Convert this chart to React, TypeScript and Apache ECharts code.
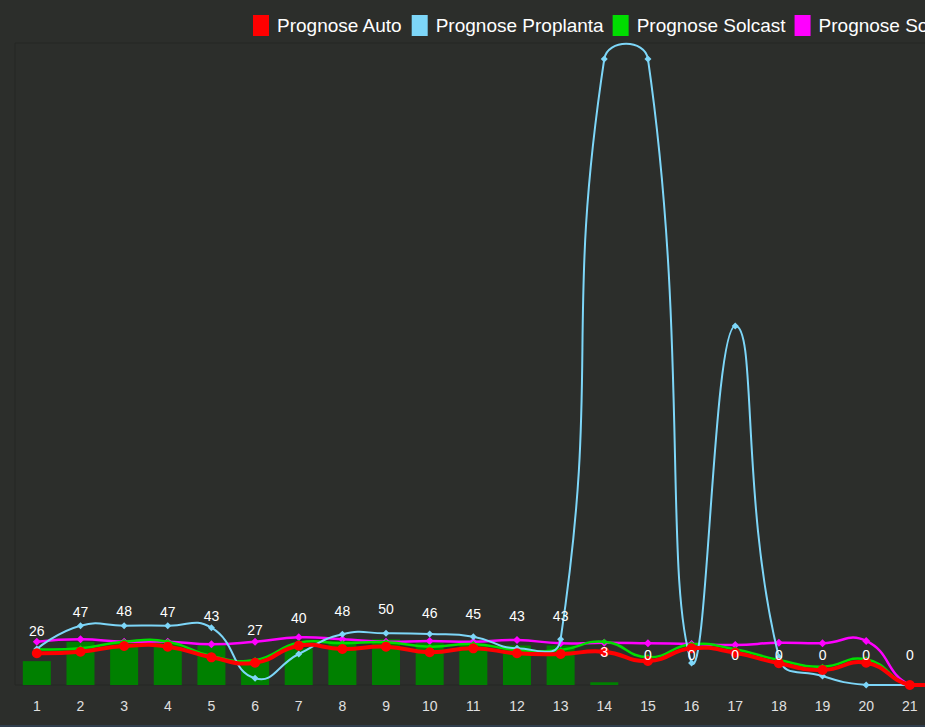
import React, { useEffect, useRef } from "react";
import * as echarts from "echarts";

const days = ["1","2","3","4","5","6","7","8","9","10","11","12","13","14","15","16","17","18","19","20","21","22"];
const ertrag = [26,47,48,47,43,27,40,48,50,46,45,43,43,3,0,0,0,0,0,0,0,0];
const prognoseAuto = [34.6,36.3,42.5,41.8,30.2,24.3,42.9,39.3,41.8,35.7,40,34.6,33.8,36.3,26.2,40,35.2,23.7,16.4,24.3,0,0];
const prognoseProplanta = [39.3,64.7,64.7,64.7,62.5,7.3,33.8,55.3,56.4,55.6,52.7,40,49.8,682.6,682.6,24,391.5,30.5,9.8,0,0,0];
const prognoseSolcast = [38.9,40,47.2,47.2,31.6,27.3,46.1,45.5,46.6,41.8,44.7,38.2,38.2,47.2,30.2,44.4,38.9,27.3,20,28,0,0];
const prognoseSolcast90 = [47.2,49.8,47.2,47.2,44.4,47.2,52,49.8,47.2,48,47.2,49,45.5,46.1,45.5,44.7,43.6,46.1,45.5,48,0,0];

const FONT = "'Liberation Sans', Arial, sans-serif";
const SMOOTH = 0.5;

function curveSeries(name: string, values: number[], color: string, width: number, z: number) {
  return {
    name,
    type: "custom",
    data: values.map((v, i) => [i, v]),
    encode: { x: 0, y: 1 },
    clip: false,
    silent: true,
    z,
    itemStyle: { color },
    renderItem: (params: any, api: any) => {
      const i = params.dataIndex;
      const n = values.length;
      if (i >= n - 1) return { type: "group", children: [] };
      const P = (k: number) => api.coord([k, values[k]]) as number[];
      const yZero = (api.coord([0, 0]) as number[])[1];
      const dist = (a: number[], b: number[]) => Math.hypot(a[0] - b[0], a[1] - b[1]);
      const p0 = P(i);
      const p1 = P(i + 1);
      let cp0 = p0.slice();
      if (i > 0) {
        const pp = P(i - 1);
        const d0 = dist(p0, pp);
        const d1 = dist(p0, p1);
        const r = d0 + d1 === 0 ? 0.5 : d1 / (d0 + d1);
        cp0 = [p0[0] + (p1[0] - pp[0]) * SMOOTH * r, p0[1] + (p1[1] - pp[1]) * SMOOTH * r];
      }
      let cp1 = p1.slice();
      if (i + 1 < n - 1) {
        const pn = P(i + 2);
        const d0 = dist(p1, p0);
        const d1 = dist(p1, pn);
        const r = d0 + d1 === 0 ? 0.5 : d1 / (d0 + d1);
        cp1 = [p1[0] - (pn[0] - p0[0]) * SMOOTH * (1 - r), p1[1] - (pn[1] - p0[1]) * SMOOTH * (1 - r)];
      }
      cp0[1] = Math.min(cp0[1], yZero);
      cp1[1] = Math.min(cp1[1], yZero);
      return {
        type: "bezierCurve",
        shape: { x1: p0[0], y1: p0[1], x2: p1[0], y2: p1[1], cpx1: cp0[0], cpy1: cp0[1], cpx2: cp1[0], cpy2: cp1[1] },
        style: { stroke: color, lineWidth: width, fill: null, lineCap: "round" },
      };
    },
  };
}

function symbolSeries(name: string, values: number[], color: string, symbol: string, size: number, z: number) {
  return {
    name,
    type: "line",
    data: values,
    symbol,
    symbolSize: size,
    showSymbol: true,
    lineStyle: { width: 0, opacity: 0 },
    itemStyle: { color },
    z,
  };
}

export default function App() {
  const ref = useRef<HTMLDivElement>(null);
  useEffect(() => {
    if (!ref.current) return;
    const chart = echarts.init(ref.current, undefined, { renderer: "svg" });
    chart.setOption({
      animation: false,
      backgroundColor: "#2c2e2b",
      textStyle: { fontFamily: FONT },
      legend: {
        left: 248,
        top: 10,
        width: 1400,
        itemWidth: 16,
        itemHeight: 21,
        itemGap: 9,
        icon: "rect",
        data: ["Prognose Auto", "Prognose Proplanta", "Prognose Solcast", "Prognose Solcast 90"],
        textStyle: { color: "#ffffff", fontSize: 19, fontFamily: FONT, padding: [0, 0, 0, 3] },
      },
      grid: {
        left: 15,
        top: 43,
        width: 960.3,
        height: 642,
        show: true,
        borderColor: "#252724",
        borderWidth: 1,
        backgroundColor: "transparent",
      },
      xAxis: {
        type: "category",
        data: days,
        axisLine: { show: false },
        axisTick: { show: false },
        axisLabel: { color: "#e0e0e0", fontSize: 14, margin: 14, fontFamily: FONT },
      },
      yAxis: { type: "value", min: 0, max: 700, show: false, splitLine: { show: false } },
      series: [
        {
          name: "Ertrag",
          type: "bar",
          data: ertrag,
          barWidth: 28,
          itemStyle: { color: "#008000" },
          z: 1,
        },
        curveSeries("Prognose Solcast 90", prognoseSolcast90, "#ff00ff", 2.5, 3),
        symbolSeries("Prognose Solcast 90", prognoseSolcast90, "#ff00ff", "diamond", 8, 3),
        curveSeries("Prognose Solcast", prognoseSolcast, "#00dd00", 2.5, 4),
        symbolSeries("Prognose Solcast", prognoseSolcast, "#00dd00", "diamond", 6, 4),
        curveSeries("Prognose Proplanta", prognoseProplanta, "#7dd6f8", 2, 5),
        symbolSeries("Prognose Proplanta", prognoseProplanta, "#7dd6f8", "diamond", 7, 5),
        curveSeries("Prognose Auto", prognoseAuto, "#ff0000", 4, 6),
        symbolSeries("Prognose Auto", prognoseAuto, "#ff0000", "circle", 10, 6),
        {
          name: "ErtragLabel",
          type: "bar",
          data: ertrag,
          barWidth: 28,
          barGap: "-100%",
          silent: true,
          itemStyle: { color: "transparent" },
          label: {
            show: true,
            position: "top",
            distance: 23,
            color: "#ffffff",
            fontSize: 14,
            fontFamily: FONT,
          },
          z: 10,
        },
      ],
    });
    return () => chart.dispose();
  }, []);
  return (
    <div style={{ position: "fixed", left: 0, top: 0, width: 925, height: 727, overflow: "hidden", background: "#2c2e2b" }}>
      <div ref={ref} style={{ width: 990, height: 725 }} />
      <div style={{ position: "absolute", left: 0, bottom: 0, width: 925, height: 2, background: "#2f3d4c" }} />
    </div>
  );
}
